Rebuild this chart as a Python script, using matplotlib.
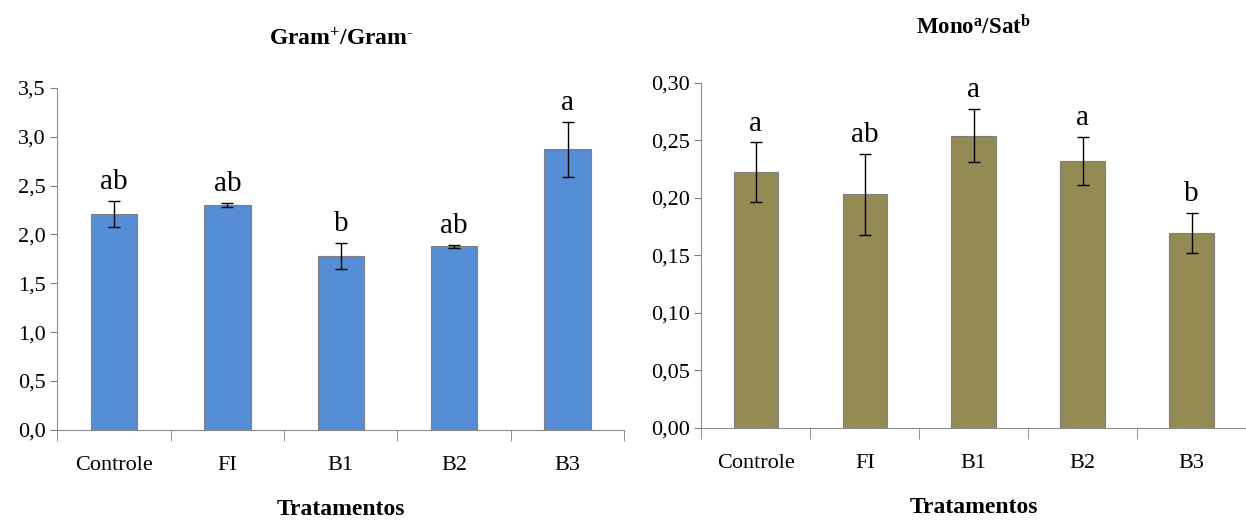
import matplotlib

matplotlib.use("Agg")
import matplotlib.pyplot as plt
import numpy as np

plt.rcParams["font.family"] = ["Liberation Serif", "DejaVu Serif"]
plt.rcParams["mathtext.fontset"] = "custom"
plt.rcParams["mathtext.rm"] = "Liberation Serif"
plt.rcParams["mathtext.bf"] = "Liberation Serif:bold"
plt.rcParams["mathtext.default"] = "bf"

# data
tratamentos = ["Controle", "FI", "B1", "B2", "B3"]

gram_ratio = [2.21, 2.30, 1.78, 1.88, 2.87]
gram_err = [0.13, 0.02, 0.13, 0.015, 0.28]
gram_letters = ["ab", "ab", "b", "ab", "a"]
gram_ticks = [0.0, 0.5, 1.0, 1.5, 2.0, 2.5, 3.0, 3.5]

mono_ratio = [0.222, 0.203, 0.254, 0.232, 0.169]
mono_err = [0.026, 0.035, 0.023, 0.021, 0.0175]
mono_letters = ["a", "ab", "a", "a", "b"]
mono_ticks = [0.00, 0.05, 0.10, 0.15, 0.20, 0.25, 0.30]


def panel(ax, vals, errs, letters, ticks, fmt, color, title, pad, tsize, tpad):
    x = np.arange(len(tratamentos))
    ax.bar(x, vals, width=0.41, color=color, edgecolor="#7f7f7f",
           linewidth=0.8, zorder=2)
    ax.errorbar(x, vals, yerr=errs, fmt="none", ecolor="black",
                elinewidth=1, capsize=4, capthick=1, zorder=3)
    for xi, v, e, lab in zip(x, vals, errs, letters):
        ax.text(xi, v + e + pad, lab, ha="center", va="bottom", fontsize=21)

    ax.set_xlim(-0.5, len(tratamentos) - 0.5)
    ax.set_ylim(ticks[0], ticks[-1])
    ax.set_yticks(ticks)
    ax.set_yticklabels([fmt.format(t).replace(".", ",") for t in ticks],
                       fontsize=16)
    ax.set_xticks(x)
    ax.set_xticklabels(tratamentos, fontsize=16)
    ax.set_xticks(np.arange(len(tratamentos) + 1) - 0.5, minor=True)
    ax.tick_params(axis="x", which="major", length=0, pad=19)
    ax.tick_params(axis="x", which="minor", length=8, color="#7f7f7f",
                   direction="out")
    ax.tick_params(axis="y", length=5, color="#7f7f7f", direction="out")
    for s in ("top", "right"):
        ax.spines[s].set_visible(False)
    for s in ("left", "bottom"):
        ax.spines[s].set_color("#8c8c8c")
    ax.set_title(title, fontsize=tsize, fontweight="bold", pad=tpad)
    ax.set_xlabel("Tratamentos", fontsize=17, fontweight="bold", labelpad=17)


fig = plt.figure(figsize=(12.46, 5.23), dpi=100)
ax1 = fig.add_axes([0.046, 0.178, 0.455, 0.654])
ax2 = fig.add_axes([0.563, 0.182, 0.437, 0.66])

panel(ax1, gram_ratio, gram_err, gram_letters, gram_ticks, "{:.1f}",
      "#558ed5", r"Gram$^{+}$/Gram$^{\text{-}}$", 0.06, 17, 31)
panel(ax2, mono_ratio, mono_err, mono_letters, mono_ticks, "{:.2f}",
      "#948a54", r"Mono$^{a}$/Sat$^{b}$", 0.005, 16.5, 35)

fig.savefig("out.png", dpi=100)
